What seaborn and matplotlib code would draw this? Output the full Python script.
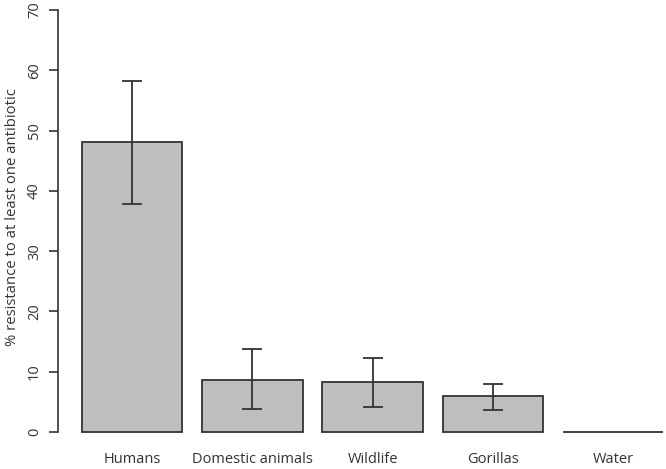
import matplotlib
matplotlib.use("Agg")
import matplotlib.pyplot as plt
import seaborn as sns
import numpy as np
import pandas as pd

# Data
groups = ["Humans", "Domestic animals", "Wildlife", "Gorillas", "Water"]
resistance = [48.1, 8.6, 8.3, 5.9, 0.0]
ci_low = [37.9, 3.8, 4.2, 3.6, 0.0]
ci_high = [58.3, 13.7, 12.2, 7.9, 0.0]
yticks = [0, 10, 20, 30, 40, 50, 60, 70]

df = pd.DataFrame({"group": groups, "resistance": resistance})

sns.set_style("white")
plt.rcParams["font.family"] = ["Open Sans", "DejaVu Sans"]
text_col = "#333333"

fig = plt.figure(figsize=(6.66, 4.69), dpi=100)
ax = fig.add_axes([58 / 666, 31 / 469, 608 / 666, 434 / 469])

sns.barplot(data=df, x="group", y="resistance", color="#bebebe",
            saturation=1, edgecolor="#333333", linewidth=1.3,
            width=0.835, errorbar=None, ax=ax)
for p in ax.patches:
    p.set_clip_on(False)

# Error bars (only where there is a spread)
has_err = [i for i in range(len(groups)) if ci_high[i] > ci_low[i]]
xs = np.array(has_err)
mid = np.array([resistance[i] for i in has_err])
lo = mid - np.array([ci_low[i] for i in has_err])
hi = np.array([ci_high[i] for i in has_err]) - mid
ax.errorbar(xs, mid, yerr=[lo, hi], fmt="none", ecolor="#333333",
            elinewidth=1.3, capsize=7.2, capthick=1.3)

ax.set_xlim(-0.615, 4.439)
ax.set_ylim(-1, 71)

for s in ["top", "right", "bottom"]:
    ax.spines[s].set_visible(False)
ax.spines["left"].set_bounds(0, 70)
ax.spines["left"].set_color("#333333")
ax.spines["left"].set_linewidth(1.2)

ax.set_yticks(yticks)
ax.set_yticklabels([str(t) for t in yticks], rotation=90, va="center",
                   fontsize=10.5, color=text_col)
ax.tick_params(axis="y", left=True, length=6.5, width=1.2, color="#333333", pad=5)
ax.tick_params(axis="x", bottom=False, length=0, pad=10, labelsize=10.5,
               labelcolor=text_col)

ax.set_xlabel("")
ax.set_ylabel("% resistance to at least one antibiotic", fontsize=10.7,
              color=text_col)
ax.yaxis.set_label_coords(-0.062, 0.508)

fig.savefig("out.png", dpi=100)
